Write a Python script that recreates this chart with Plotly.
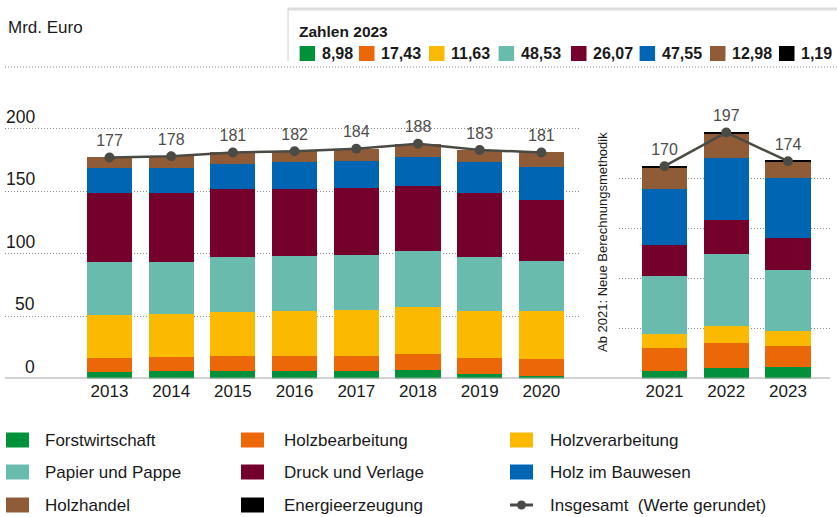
import plotly.graph_objects as go

W, H = 837, 517

# ---------------- data ----------------
years_left = ["2013", "2014", "2015", "2016", "2017", "2018", "2019", "2020"]
years_right = ["2021", "2022", "2023"]

series_names = ["Forstwirtschaft", "Holzbearbeitung", "Holzverarbeitung", "Papier und Pappe",
                "Druck und Verlage", "Holz im Bauwesen", "Holzhandel", "Energieerzeugung"]
series_colors = ["#00913a", "#ec6707", "#fbba00", "#69bbae", "#75002b", "#0066b3", "#905c37", "#000000"]

forst_left = [5.0, 5.8, 6.1, 6.1, 6.1, 6.9, 3.7, 1.8]
holzbe_left = [11.3, 11.3, 11.8, 11.8, 12.0, 12.8, 12.6, 13.7]
holzver_left = [34.4, 34.6, 35.2, 36.0, 36.8, 37.4, 37.6, 38.4]
papier_left = [42.4, 41.4, 44.0, 44.0, 43.8, 45.1, 43.5, 40.0]
druck_left = [55.3, 55.3, 54.5, 53.7, 53.9, 52.0, 51.2, 49.1]
bau_left = [20.0, 20.0, 20.0, 21.6, 21.4, 23.0, 24.8, 26.2]
handel_left = [8.6, 9.6, 9.4, 8.8, 10.0, 10.8, 9.6, 11.8]
energie_left = [0, 0, 0, 0, 0, 0, 0, 0]
totals_left = [177, 178, 181, 182, 184, 188, 183, 181]

forst_right = [6.0, 8.6, 8.98]
holzbe_right = [18.7, 19.8, 17.43]
holzver_right = [10.9, 13.6, 11.63]
papier_right = [46.5, 58.0, 48.53]
druck_right = [24.8, 26.6, 26.07]
bau_right = [45.1, 49.7, 47.55]
handel_right = [17.0, 19.5, 12.98]
energie_right = [1.0, 1.2, 1.19]
totals_right = [170, 197, 174]

values_2023 = ["8,98", "17,43", "11,63", "48,53", "26,07", "47,55", "12,98", "1,19"]
y_tick_vals_left = [0, 50, 100, 150, 200]
grid_vals_right = [40, 80, 120, 160]

left_series = [forst_left, holzbe_left, holzver_left, papier_left, druck_left, bau_left, handel_left, energie_left]
right_series = [forst_right, holzbe_right, holzver_right, papier_right, druck_right, bau_right, handel_right, energie_right]

# ---------------- helpers ----------------
FONT = "Liberation Sans, Arial, sans-serif"
TXT = "#1a1a1a"
LINE_C = "#4b4b45"
GRID_C = "#8a8a8a"


def px(x):
    return x / W


def py(y):
    return (H - y) / H


fig = go.Figure()

for name, col, vl, vr in zip(series_names, series_colors, left_series, right_series):
    fig.add_trace(go.Bar(x=years_left, y=vl, name=name, marker=dict(color=col, line=dict(width=0)),
                         width=0.73, xaxis="x", yaxis="y", showlegend=False, hoverinfo="skip"))
    fig.add_trace(go.Bar(x=years_right, y=vr, name=name, marker=dict(color=col, line=dict(width=0)),
                         width=0.73, xaxis="x2", yaxis="y2", showlegend=False, hoverinfo="skip"))

for xs, ys, xa, ya in [(years_left, totals_left, "x", "y"), (years_right, totals_right, "x2", "y2")]:
    fig.add_trace(go.Scatter(x=xs, y=ys, mode="lines+markers+text", xaxis=xa, yaxis=ya,
                             line=dict(color=LINE_C, width=2.5), marker=dict(color=LINE_C, size=10),
                             text=[str(v) for v in ys], textposition="top center",
                             textfont=dict(size=16, color="#4d4d4d", family=FONT),
                             showlegend=False, hoverinfo="skip", cliponaxis=False))

ydom = [py(378.5), py(378.5 - 250 * 1.249)]
step_l = 61.7
r0 = (5 - 109.5) / step_l
r1 = (580 - 109.5) / step_l
step_r = 61.75
q0 = (619 - 664.5) / step_r
q1 = (830 - 664.5) / step_r

axis_common = dict(showline=False, zeroline=False, ticks="", tickfont=dict(size=17, color=TXT, family=FONT))
grid_common = dict(showgrid=True, gridcolor=GRID_C, gridwidth=1, griddash="1px,2px", zeroline=False,
                   showticklabels=False, showline=False, range=[0, 250], domain=ydom, fixedrange=True)

fig.update_layout(
    width=W, height=H, margin=dict(l=0, r=0, t=0, b=0),
    paper_bgcolor="white", plot_bgcolor="white",
    barmode="stack", bargap=0.27,
    font=dict(family=FONT, color=TXT),
    xaxis=dict(domain=[px(5), px(580)], range=[r0, r1], type="category", anchor="y", showgrid=False, **axis_common),
    xaxis2=dict(domain=[px(619), px(830)], range=[q0, q1], type="category", anchor="y2", showgrid=False, **axis_common),
    yaxis=dict(anchor="x", tickvals=y_tick_vals_left[1:], **grid_common),
    yaxis2=dict(anchor="x2", tickvals=grid_vals_right, **grid_common),
)

shapes = []
annotations = []

# baseline
shapes.append(dict(type="line", xref="paper", yref="y", x0=px(5), x1=px(830), y0=0, y1=0,
                   line=dict(color="#a6a6a6", width=2)))
# top dotted separator
shapes.append(dict(type="line", xref="paper", yref="paper", x0=px(5), x1=px(837), y0=py(67), y1=py(67),
                   line=dict(color=GRID_C, width=1, dash="1px,2px")))

# y tick labels (left panel)
for v in y_tick_vals_left:
    annotations.append(dict(text=str(v), xref="paper", yref="y", x=px(37), y=v, xanchor="right",
                            yanchor="middle", yshift=12, showarrow=False,
                            font=dict(size=17.5, color=TXT, family=FONT)))

# unit label
annotations.append(dict(text="Mrd. Euro", xref="paper", yref="paper", x=px(6), y=py(28), xanchor="left",
                        yanchor="middle", showarrow=False, font=dict(size=17, color=TXT, family=FONT)))

# rotated note
annotations.append(dict(text="Ab 2021: Neue Berechnungsmethodik", xref="paper", yref="paper", x=px(602),
                        y=py(242), textangle=-90, xanchor="center", yanchor="middle", showarrow=False,
                        font=dict(size=13, color=TXT, family=FONT)))

# "Zahlen 2023" box
shapes.append(dict(type="line", xref="paper", yref="paper", x0=px(288), x1=px(837), y0=py(9), y1=py(9),
                   line=dict(color="#dcdcdc", width=3)))
shapes.append(dict(type="line", xref="paper", yref="paper", x0=px(288), x1=px(288), y0=py(8), y1=py(61),
                   line=dict(color="#d0d0d0", width=1)))
annotations.append(dict(text="<b>Zahlen 2023</b>", xref="paper", yref="paper", x=px(297), y=py(31),
                        xanchor="left", yanchor="middle", showarrow=False,
                        font=dict(size=15.5, color=TXT, family=FONT)))
sw_x = [299.6, 359, 429, 498.6, 571, 639.6, 710, 779]
for xx, col, val in zip(sw_x, series_colors, values_2023):
    shapes.append(dict(type="rect", xref="paper", yref="paper", x0=px(xx), x1=px(xx + 15.5),
                       y0=py(46), y1=py(61), fillcolor=col, line=dict(width=0)))
    annotations.append(dict(text="<b>" + val + "</b>", xref="paper", yref="paper", x=px(xx + 20), y=py(53.5),
                            xanchor="left", yanchor="middle", showarrow=False,
                            font=dict(size=16, color=TXT, family=FONT)))

# bottom legend
legend_rows = [440, 472, 505]
legend_sw_x = [6, 241, 510]
legend_txt_x = [43, 282, 548]
legend_items = series_names + ["Insgesamt\u00a0 (Werte gerundet)"]
for i, label in enumerate(legend_items):
    r, c = divmod(i, 3)
    yy = legend_rows[r]
    if i < 8:
        shapes.append(dict(type="rect", xref="paper", yref="paper", x0=px(legend_sw_x[c]),
                           x1=px(legend_sw_x[c] + 23), y0=py(yy - 7.5), y1=py(yy + 7.5),
                           fillcolor=series_colors[i], line=dict(width=0)))
    else:
        x0 = legend_sw_x[c]
        shapes.append(dict(type="line", xref="paper", yref="paper", x0=px(x0), x1=px(x0 + 23),
                           y0=py(yy), y1=py(yy), line=dict(color=LINE_C, width=3)))
        shapes.append(dict(type="circle", xref="paper", yref="paper", x0=px(x0 + 7), x1=px(x0 + 16),
                           y0=py(yy - 4.5), y1=py(yy + 4.5), fillcolor=LINE_C, line=dict(width=0)))
    annotations.append(dict(text=label, xref="paper", yref="paper", x=px(legend_txt_x[c]), y=py(yy),
                            xanchor="left", yanchor="middle", showarrow=False,
                            font=dict(size=17, color=TXT, family=FONT)))

fig.update_layout(shapes=shapes, annotations=annotations)

fig.write_html("out.html", config={"displayModeBar": False},
               post_script="document.body.style.margin='0';document.body.style.overflow='hidden';")
